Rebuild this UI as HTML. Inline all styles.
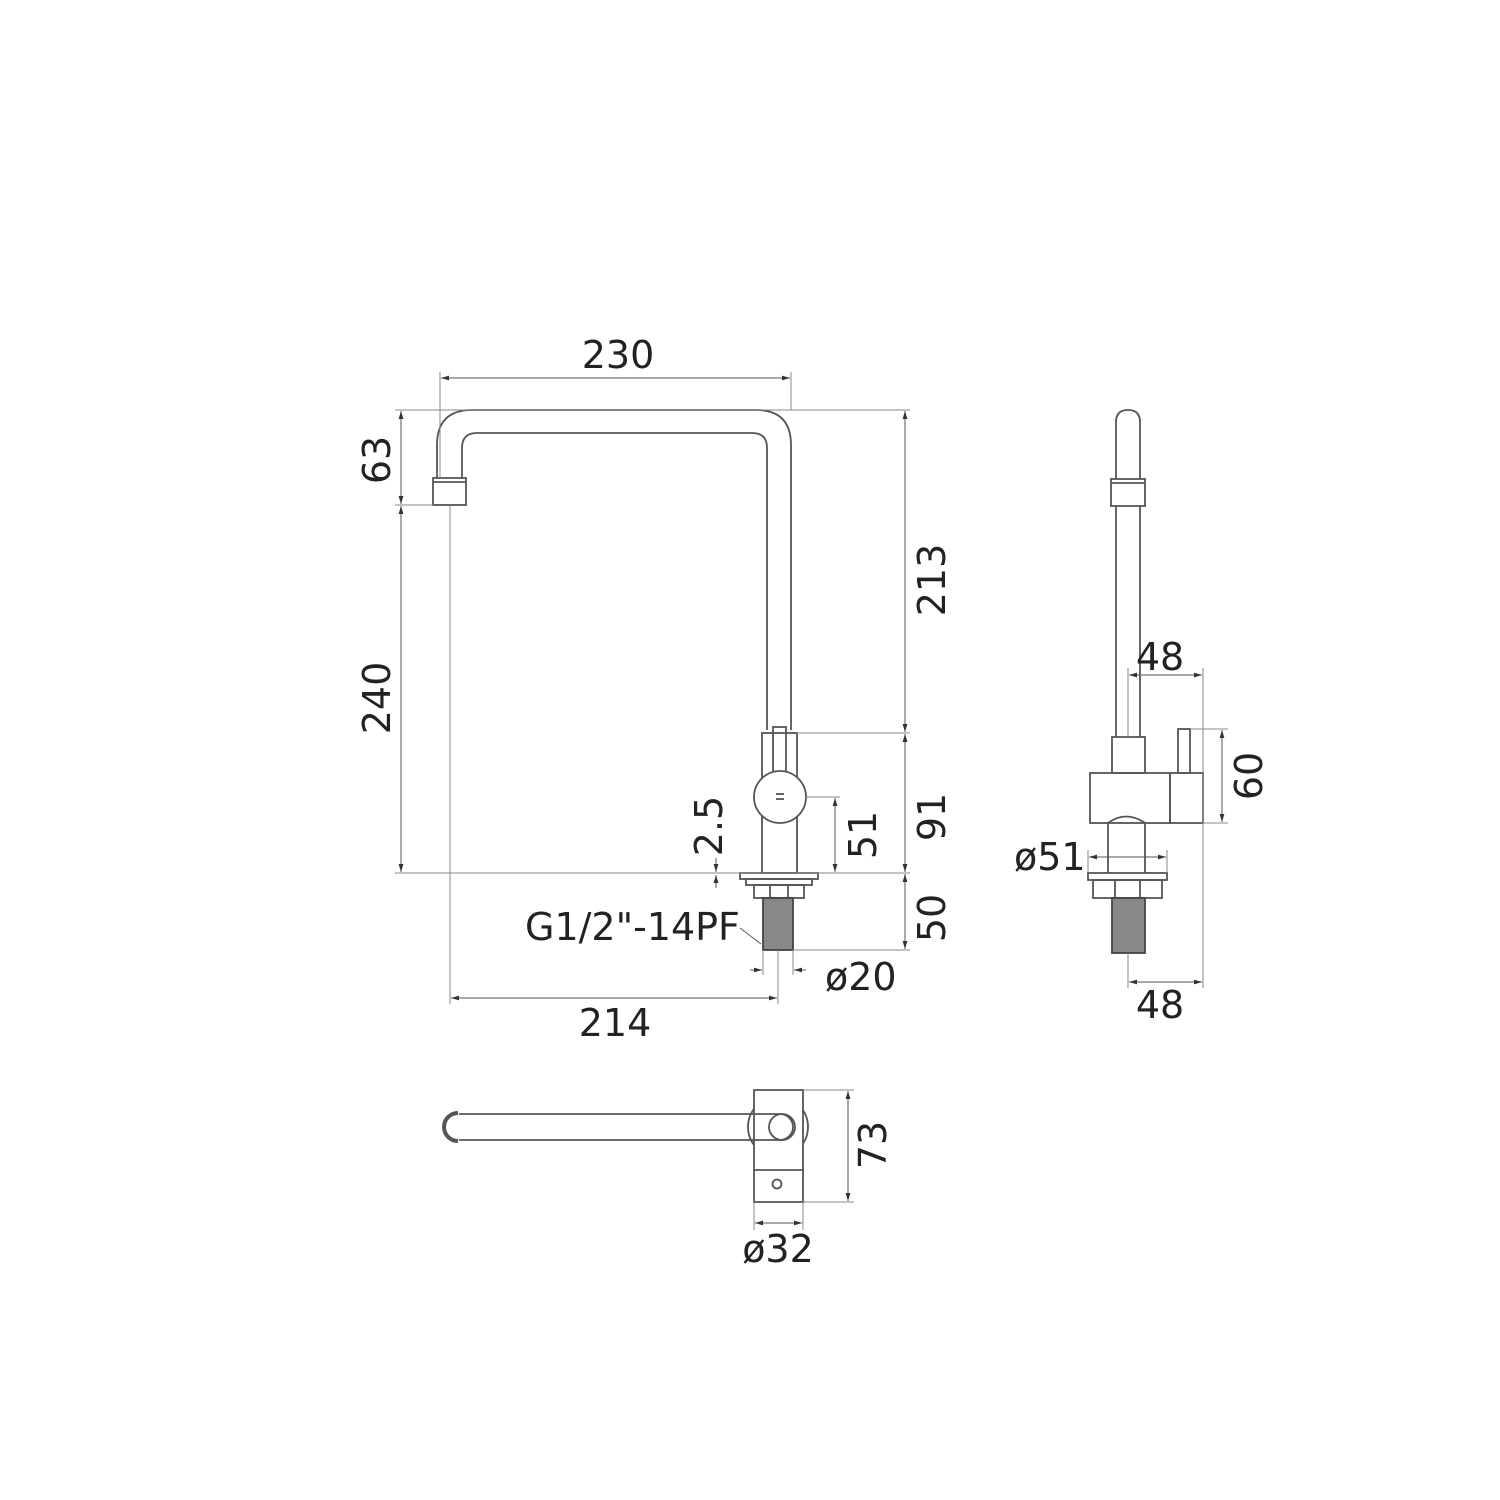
<!DOCTYPE html>
<html><head><meta charset="utf-8"><style>
html,body{margin:0;padding:0;background:#fff}
svg{display:block}
text{font-family:"DejaVu Sans","Liberation Sans",sans-serif;fill:#222}
</style></head><body>
<svg width="1500" height="1500" viewBox="0 0 1500 1500" xmlns="http://www.w3.org/2000/svg">
<defs>
<marker id="a" viewBox="0 0 10 10" refX="10" refY="5" markerWidth="8" markerHeight="8" orient="auto-start-reverse"><path d="M0,2 L10,5 L0,8 z" fill="#333"/></marker>
</defs>
<g fill="none" stroke="#555" stroke-width="1.8">
<!-- spout front -->
<path d="M437,478 L437,445 Q437,410 472,410 L756,410 Q791,410 791,445 L791,730"/>
<path d="M462,478 L462,448 Q462,433 477,433 L752,433 Q767,433 767,448 L767,730"/>
<rect x="433" y="478" width="33" height="27"/>
<line x1="433" y1="482" x2="466" y2="482"/>
<!-- body -->
<rect x="762" y="733" width="35" height="140"/>
<rect x="773" y="727" width="13" height="45"/>
<circle cx="780" cy="797" r="26" fill="#fff"/>
<line x1="776" y1="794" x2="784" y2="794"/><line x1="776" y1="799" x2="784" y2="799"/>
<rect x="740" y="873" width="78" height="6"/>
<rect x="746" y="879" width="66" height="6"/>
<rect x="754" y="885" width="50" height="13"/>
<line x1="770" y1="885" x2="770" y2="898"/><line x1="788" y1="885" x2="788" y2="898"/>
<rect x="763" y="898" width="30" height="52" fill="#888" stroke="#444"/>
<!-- side view -->
<path d="M1116,479 L1116,422 Q1116,410 1128,410 Q1140,410 1140,422 L1140,479"/>
<rect x="1111" y="479" width="34" height="27"/>
<line x1="1111" y1="483" x2="1145" y2="483"/>
<line x1="1116" y1="506" x2="1116" y2="737"/><line x1="1140" y1="506" x2="1140" y2="737"/>
<rect x="1112" y="737" width="33" height="36"/>
<rect x="1090" y="773" width="80" height="50"/>
<rect x="1170" y="773" width="33" height="50"/>
<rect x="1178" y="729" width="12" height="44"/>
<path d="M1108,873 L1108,823 Q1126,810 1145,823 L1145,873"/>
<rect x="1088" y="873" width="79" height="7"/>
<rect x="1093" y="880" width="69" height="18"/>
<line x1="1115" y1="880" x2="1115" y2="898"/><line x1="1140" y1="880" x2="1140" y2="898"/>
<rect x="1112" y="898" width="33" height="55" fill="#888" stroke="#444"/>
<!-- top view -->
<circle cx="778" cy="1127" r="30"/>
<rect x="754" y="1090" width="49" height="112" fill="#fff"/>
<line x1="754" y1="1170" x2="803" y2="1170"/>
<circle cx="777" cy="1184" r="4.5"/>
<path d="M459,1114 L780,1114 A13,13 0 0 1 780,1140 L459,1140"/>
<circle cx="782" cy="1127" r="13"/>
<path d="M458,1113 A14,14 0 1 0 458,1141" stroke-width="4" stroke="#555"/>
</g>
<!-- dimension lines -->
<g fill="none" stroke="#888" stroke-width="1">
<line x1="440" y1="372" x2="440" y2="478"/><line x1="791" y1="372" x2="791" y2="410"/>
<line x1="395" y1="410" x2="910" y2="410"/>
<line x1="395" y1="505" x2="433" y2="505"/>
<line x1="395" y1="873" x2="910" y2="873"/>
<line x1="797" y1="733" x2="910" y2="733"/>
<line x1="793" y1="950" x2="910" y2="950"/>
<line x1="806" y1="797" x2="840" y2="797"/>
<line x1="450" y1="505" x2="450" y2="1004"/>
<line x1="778" y1="950" x2="778" y2="1004"/>
<line x1="763" y1="950" x2="763" y2="975"/><line x1="793" y1="950" x2="793" y2="975"/>
<line x1="1128" y1="668" x2="1128" y2="737"/>
<line x1="1203" y1="668" x2="1203" y2="988"/>
<line x1="1128" y1="953" x2="1128" y2="988"/>
<line x1="1190" y1="729" x2="1228" y2="729"/><line x1="1203" y1="823" x2="1228" y2="823"/>
<line x1="1088" y1="850" x2="1088" y2="873"/><line x1="1167" y1="850" x2="1167" y2="873"/>
<line x1="803" y1="1090" x2="854" y2="1090"/><line x1="803" y1="1202" x2="854" y2="1202"/>
<line x1="754" y1="1202" x2="754" y2="1230"/><line x1="803" y1="1202" x2="803" y2="1230"/>
</g>
<g fill="none" stroke="#555" stroke-width="1" marker-start="url(#a)" marker-end="url(#a)">
<line x1="441" y1="378" x2="790" y2="378"/>
<line x1="401" y1="411" x2="401" y2="504"/>
<line x1="401" y1="506" x2="401" y2="872"/>
<line x1="905" y1="411" x2="905" y2="732"/>
<line x1="905" y1="734" x2="905" y2="872"/>
<line x1="905" y1="874" x2="905" y2="949"/>
<line x1="835" y1="798" x2="835" y2="872"/>
<line x1="451" y1="998" x2="777" y2="998"/>
<line x1="1129" y1="675" x2="1202" y2="675"/>
<line x1="1129" y1="982" x2="1202" y2="982"/>
<line x1="1222" y1="730" x2="1222" y2="822"/>
<line x1="1089" y1="857" x2="1166" y2="857"/>
<line x1="848" y1="1091" x2="848" y2="1201"/>
<line x1="755" y1="1223" x2="802" y2="1223"/>
</g>
<g stroke="#555" stroke-width="1" fill="none">
<line x1="750" y1="970" x2="762" y2="970" marker-end="url(#a)"/>
<line x1="806" y1="970" x2="794" y2="970" marker-end="url(#a)"/>
<line x1="716" y1="858" x2="716" y2="872" marker-end="url(#a)"/>
<line x1="716" y1="888" x2="716" y2="875" marker-end="url(#a)"/>
<line x1="740" y1="928" x2="761" y2="944"/>
</g>
<g font-size="38">
<text x="618" y="368" text-anchor="middle">230</text>
<text x="615" y="1036" text-anchor="middle">214</text>
<text x="525" y="940">G1/2"-14PF</text>
<text x="825" y="990">ø20</text>
<text x="1160" y="670" text-anchor="middle">48</text>
<text x="1160" y="1018" text-anchor="middle">48</text>
<text x="1014" y="870">ø51</text>
<text x="778" y="1262" text-anchor="middle">ø32</text>
<text transform="translate(390,460) rotate(-90)" text-anchor="middle">63</text>
<text transform="translate(390,698) rotate(-90)" text-anchor="middle">240</text>
<text transform="translate(945,580) rotate(-90)" text-anchor="middle">213</text>
<text transform="translate(945,817) rotate(-90)" text-anchor="middle">91</text>
<text transform="translate(945,918) rotate(-90)" text-anchor="middle">50</text>
<text transform="translate(876,835) rotate(-90)" text-anchor="middle">51</text>
<text transform="translate(722,826) rotate(-90)" text-anchor="middle">2.5</text>
<text transform="translate(1262,776) rotate(-90)" text-anchor="middle">60</text>
<text transform="translate(886,1145) rotate(-90)" text-anchor="middle">73</text>
</g>
</svg>
</body></html>
